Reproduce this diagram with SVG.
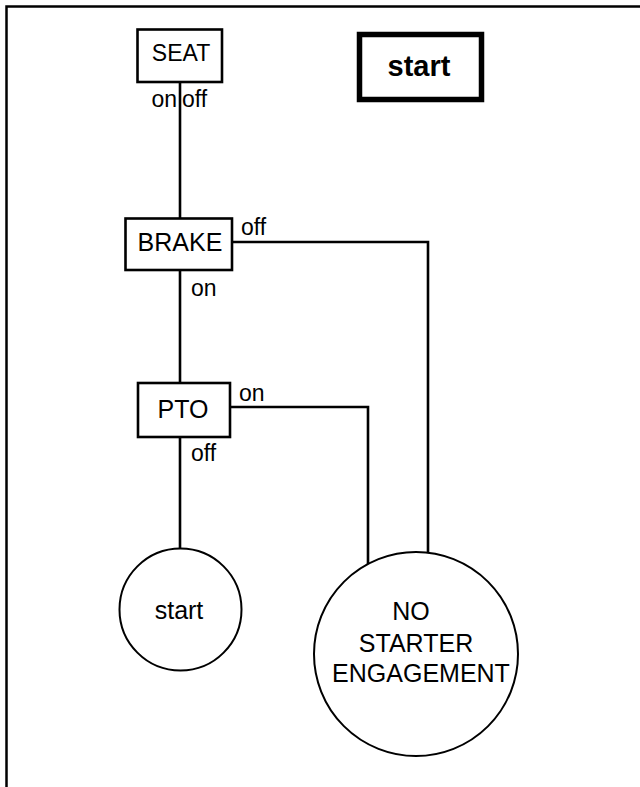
<svg xmlns="http://www.w3.org/2000/svg" width="640" height="787" viewBox="0 0 640 787">
<style>
.box{fill:#fff;stroke:#000;stroke-width:2.6}
.circ{fill:#fff;stroke:#000;stroke-width:2}
.wire{fill:none;stroke:#000;stroke-width:2.6}
text{font-family:"Liberation Sans",Arial,sans-serif;fill:#000}
.lbl{font-size:25px;text-anchor:middle}
.sm{font-size:23px}
</style>
<rect width="640" height="787" fill="#fff"/>
<path d="M6.5,787 V6.5 H640" fill="none" stroke="#000" stroke-width="2.5"/>
<g id="connectors">
<path class="wire" d="M180,82 V218"/>
<path class="wire" d="M232,242 H428 V553"/>
<path class="wire" d="M180,270 V383"/>
<path class="wire" d="M230,407 H368 V564"/>
<path class="wire" d="M180,437 V548"/>
<text class="sm" x="177" y="107" text-anchor="end">on</text>
<text class="sm" x="182" y="107">off</text>
<text class="sm" x="241" y="235">off</text>
<text class="sm" x="191" y="296">on</text>
<text class="sm" x="239" y="401">on</text>
<text class="sm" x="191" y="461">off</text>
</g>
<g id="seat">
<rect class="box" x="137.5" y="29.5" width="84.5" height="52.5"/>
<text class="lbl" x="181" y="61" style="font-size:23px">SEAT</text>
</g>
<g id="title">
<rect x="359.5" y="34.5" width="122" height="65" fill="#fff" stroke="#000" stroke-width="5.5"/>
<text x="419" y="76" style="font-size:29px;font-weight:bold;text-anchor:middle">start</text>
</g>
<g id="brake">
<rect class="box" x="125.5" y="218.5" width="106.5" height="51.5"/>
<text class="lbl" x="180" y="251">BRAKE</text>
</g>
<g id="pto">
<rect class="box" x="138" y="383" width="92" height="54"/>
<text class="lbl" x="183" y="418">PTO</text>
</g>
<g id="start-node">
<circle class="circ" cx="180.5" cy="609.5" r="61"/>
<text class="lbl" x="179" y="619">start</text>
</g>
<g id="no-starter">
<circle class="circ" cx="416" cy="654" r="102"/>
<text class="lbl" x="411" y="620">NO</text>
<text class="lbl" x="416" y="652">STARTER</text>
<text class="lbl" x="421" y="682">ENGAGEMENT</text>
</g>
</svg>
